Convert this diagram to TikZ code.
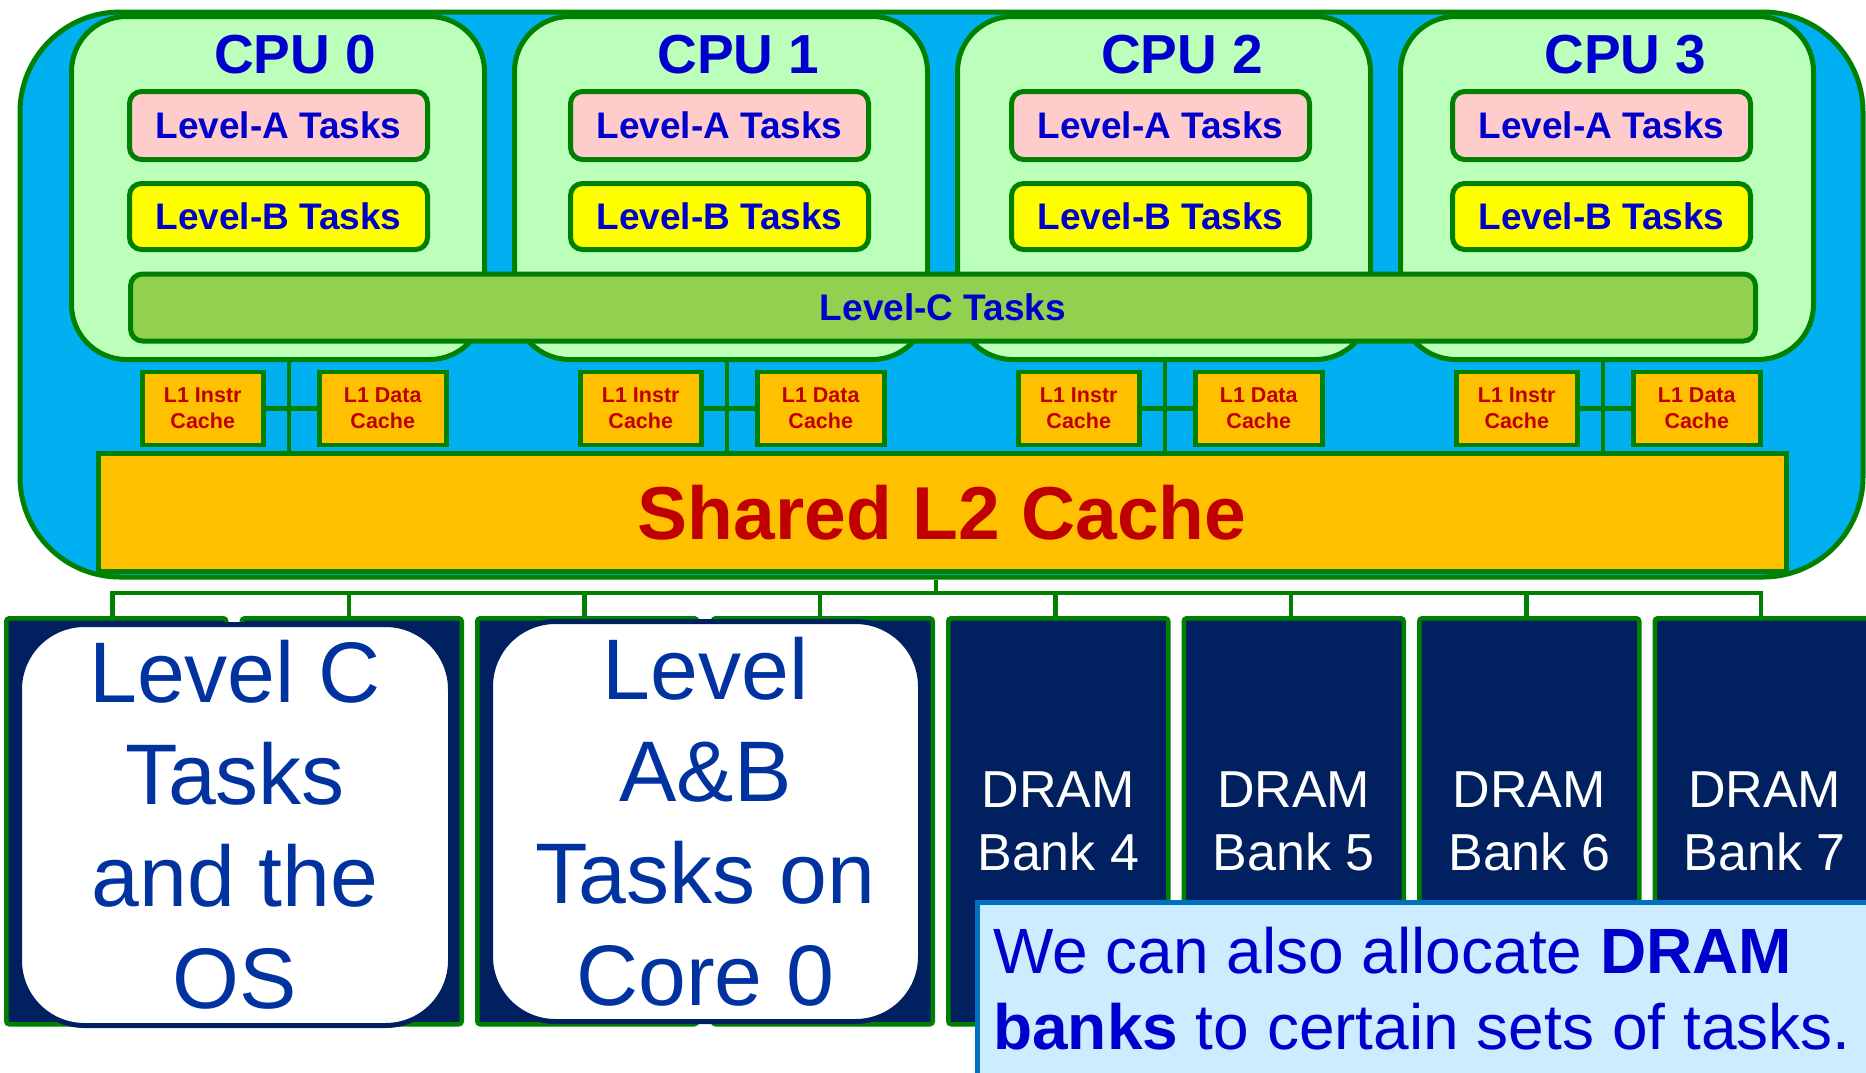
\documentclass[tikz,border=0pt]{standalone}
\usepackage{fontspec}
\setmainfont{Liberation Sans}
\definecolor{grn}{HTML}{008000}
\definecolor{sky}{HTML}{00B0F0}
\definecolor{cpug}{HTML}{BBFFBB}
\definecolor{pinkA}{HTML}{FFCCCC}
\definecolor{yel}{HTML}{FFFF00}
\definecolor{lvC}{HTML}{92D050}
\definecolor{orng}{HTML}{FFC000}
\definecolor{redt}{HTML}{C00000}
\definecolor{bluet}{HTML}{0000CC}
\definecolor{navy}{HTML}{002060}
\definecolor{wtext}{HTML}{0033A0}
\definecolor{callf}{HTML}{CCECFF}
\definecolor{callb}{HTML}{0070C0}
\begin{document}
\begin{tikzpicture}[x=1pt,y=-1pt,
  gline/.style={draw=grn, line width=4.5pt},
  frame/.style={draw=grn, fill=sky, line width=5pt, rounded corners=100pt, inner sep=0pt},
  cpubox/.style={draw=grn, fill=cpug, line width=5pt, rounded corners=55pt, inner sep=0pt},
  cputitle/.style={text=bluet, font=\bfseries\fontsize{55pt}{60pt}\selectfont, inner sep=0pt},
  taskbox/.style={draw=grn, line width=5pt, rounded corners=12pt, inner sep=0pt, text=bluet, font=\bfseries\fontsize{37pt}{40pt}\selectfont},
  lonebox/.style={draw=grn, fill=orng, line width=4.5pt, inner sep=0pt, align=center, text=redt, font=\bfseries\fontsize{21.5pt}{26pt}\selectfont},
  ltwobox/.style={draw=grn, fill=orng, line width=4.5pt, inner sep=0pt, text=redt, font=\bfseries\fontsize{75pt}{80pt}\selectfont},
  bank/.style={draw=grn, fill=navy, line width=4.5pt, rounded corners=3pt, inner sep=0pt, align=center, text=white, font=\fontsize{52pt}{63pt}\selectfont},
  wbox/.style={draw=navy, fill=white, line width=5pt, rounded corners=65pt, inner sep=0pt, align=center, text=wtext, font=\fontsize{86pt}{102pt}\selectfont},
  callout/.style={draw=callb, fill=callf, line width=4.5pt, inner sep=0pt}
]
\useasboundingbox (0,0) rectangle (1866,1072);
\clip (0,0) rectangle (1866,1072);
\fill[white] (0,0) rectangle (1866,1072);

% outer chip frame
\node[frame, anchor=north west, minimum width=1843pt, minimum height=565pt] (frame) at (17.5,9.5) {};

% CPU boxes
\foreach \i in {0,1,2,3}{
  \pgfmathsetmacro\cx{69+443*\i}
  \pgfmathsetmacro\tx{295+443.5*\i}
  \pgfmathsetmacro\ax{127+441*\i}
  \node[cpubox, anchor=north west, minimum width=413pt, minimum height=343pt] (cpu\i) at (\cx,14) {};
  \node[cputitle] (cput\i) at (\tx,54.5) {CPU \i};
  \node[taskbox, fill=pinkA, anchor=north west, minimum width=298pt, minimum height=68pt] (la\i) at (\ax,89) {Level-A Tasks};
  \node[taskbox, fill=yel, anchor=north west, minimum width=298pt, minimum height=66pt] (lb\i) at (\ax,181) {Level-B Tasks};
}

% Level-C
\node[taskbox, fill=lvC, anchor=north west, minimum width=1625pt, minimum height=67pt] (lc) at (128,271.5) {Level-C Tasks};

% Shared L2
\node[ltwobox, anchor=north west, minimum width=1688pt, minimum height=118pt] (l2) at (96,451) {Shared L2 Cache};

% L1 caches and their links
\foreach \i in {0,1,2,3}{
  \pgfmathsetmacro\ix{140+438*\i}
  \pgfmathsetmacro\dx{317+438*\i}
  \pgfmathsetmacro\vx{289+438*\i}
  \coordinate (tr\i) at (\vx,406);
  \draw[gline] (cpu\i.south -| tr\i) -- (l2.north -| tr\i);
  \node[lonebox, anchor=north west, minimum width=121pt, minimum height=73pt] (li\i) at (\ix,369.5) {L1 Instr\\Cache};
  \node[lonebox, anchor=north west, minimum width=127pt, minimum height=73pt] (ld\i) at (\dx,369.5) {L1 Data\\Cache};
  \draw[gline] (li\i.east) -- (ld\i.west);
}

% memory banks
\foreach \i in {0,1,2,3}{
  \pgfmathsetmacro\bx{4+235.5*\i}
  \node[bank, anchor=north west, minimum width=220pt, minimum height=406pt] (bank\i) at (\bx,616) {};
}
\foreach \i in {4,5,6,7}{
  \pgfmathsetmacro\bx{4+235.5*\i}
  \node[bank, anchor=north west, minimum width=220pt, minimum height=406pt] (bank\i) at (\bx,616) {DRAM\\Bank \i};
}

% bus from L2 to banks
\coordinate (bus) at (936,593);
\draw[gline] (frame.south -| bus) -- (bus);
\draw[gline] ([xshift=-4pt]bank0.north) |- (bus) -| ([xshift=-4pt]bank7.north);
\foreach \i in {1,...,6}{
  \draw[gline] ([xshift=-3pt]bank\i.north) -- ([xshift=-3pt]bank\i.north |- bus);
}

% allocation overlays
\node[wbox, anchor=north west, minimum width=431pt, minimum height=401pt] (osbox) at (17,622) {Level C\\Tasks\\and the\\OS};
\node[wbox, anchor=north west, minimum width=430pt, minimum height=400pt] (abbox) at (488,619) {Level\\A\&B\\Tasks on\\Core 0};

% callout
\node[callout, anchor=north west, minimum width=950pt, minimum height=250pt] (call) at (975,900) {};
\node[anchor=north west, align=left, inner sep=0pt, text=bluet, font=\fontsize{64pt}{76pt}\selectfont] (calltext) at (993,927) {We can also allocate \textbf{DRAM}\\\textbf{banks} to certain sets of tasks.};
\end{tikzpicture}
\end{document}
